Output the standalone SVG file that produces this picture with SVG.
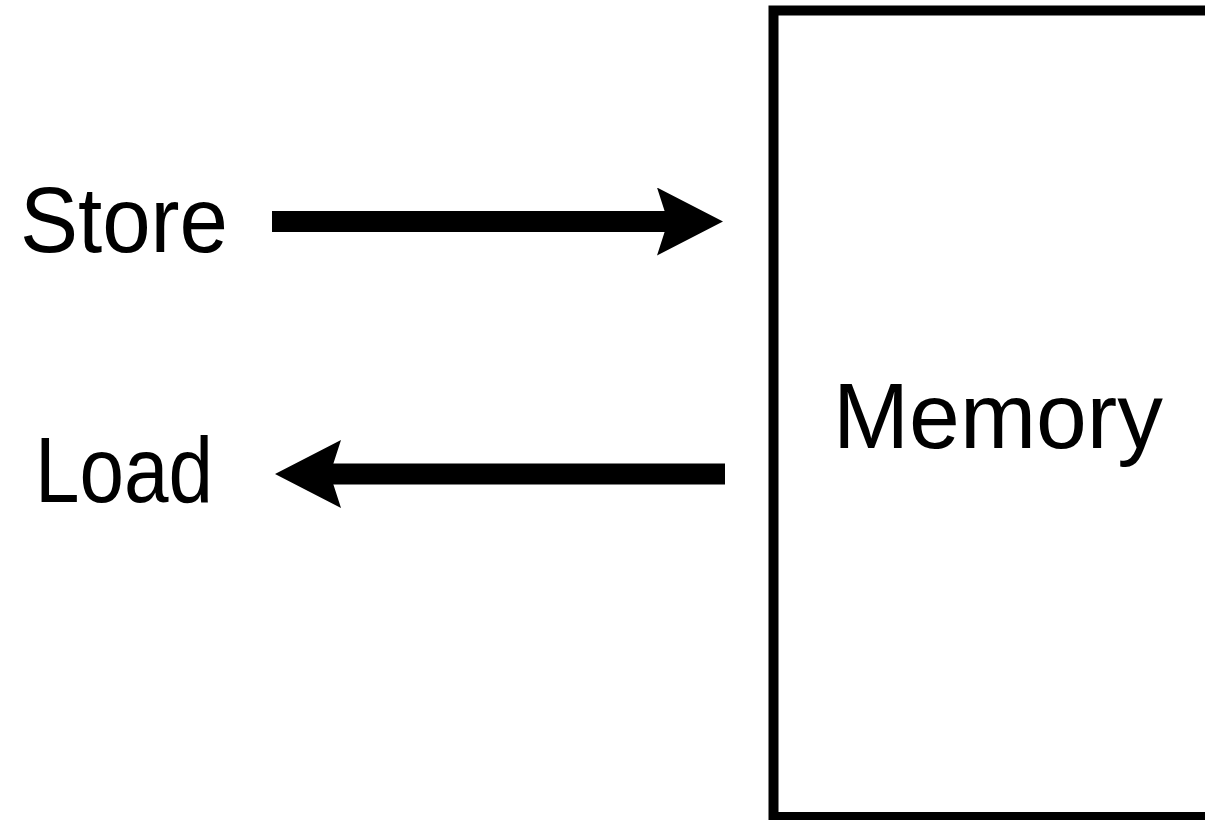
<svg xmlns="http://www.w3.org/2000/svg" width="1205" height="820" viewBox="0 0 1205 820">
<defs>
<style>
.lbl{font-family:"Liberation Sans",Arial,sans-serif;font-size:92px;fill:#000}
.conn{stroke:#000;stroke-width:21;fill:none;marker-end:url(#head)}
</style>
<marker id="head" markerUnits="userSpaceOnUse" viewBox="0 0 66 68" refX="11" refY="34" markerWidth="66" markerHeight="68" orient="auto">
<path d="M0,0 L66,34 L0,68 L11,34 Z" fill="#000"/>
</marker>
</defs>
<rect width="1205" height="820" fill="#fff"/>
<g id="memory">
<rect x="773.5" y="10.5" width="500" height="806.5" fill="#fff" stroke="#000" stroke-width="10"/>
<text class="lbl" x="833" y="448" textLength="330" lengthAdjust="spacingAndGlyphs">Memory</text>
</g>
<g id="store">
<text class="lbl" x="20" y="252" textLength="208" lengthAdjust="spacingAndGlyphs">Store</text>
</g>
<g id="load">
<text class="lbl" x="35" y="502" textLength="178" lengthAdjust="spacingAndGlyphs">Load</text>
</g>
<g id="connectors">
<line class="conn" x1="272" y1="221.5" x2="668" y2="221.5"/>
<line class="conn" x1="725" y1="474" x2="330" y2="474"/>
</g>
</svg>
